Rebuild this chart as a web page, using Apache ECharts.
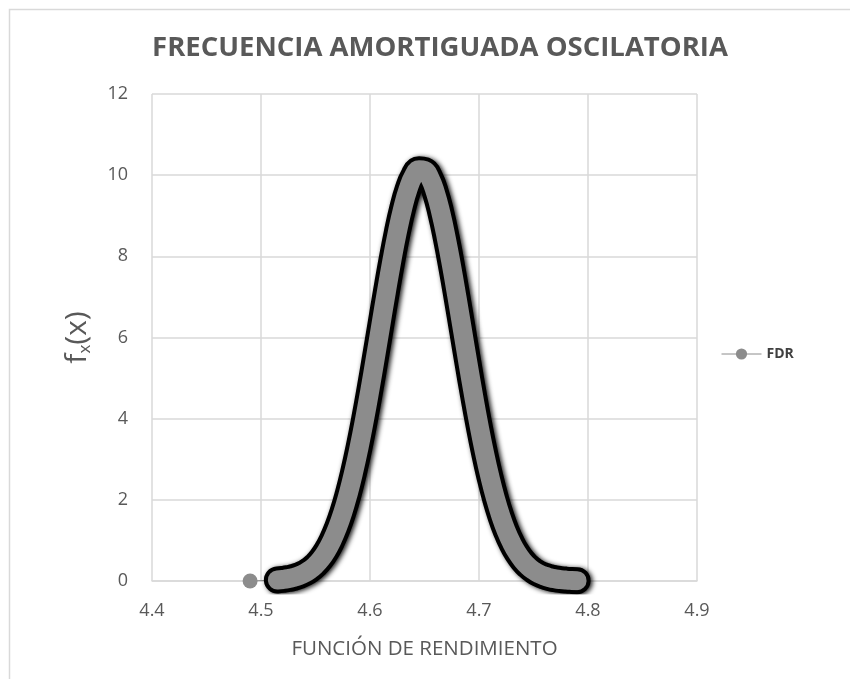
<!DOCTYPE html>
<html>
<head>
<meta charset="utf-8">
<script src="https://cdn.jsdelivr.net/npm/echarts@6/dist/echarts.min.js"></script>
<style>
html,body{margin:0;padding:0;background:#fff;}
#chart{width:850px;height:679px;}
</style>
</head>
<body>
<div id="chart"></div>
<script>
const titleText = 'FRECUENCIA AMORTIGUADA OSCILATORIA';
const xAxisName = 'FUNCIÓN DE RENDIMIENTO';
const seriesName = 'FDR';
const xTicks = [4.4, 4.5, 4.6, 4.7, 4.8, 4.9];
const yTicks = [0, 2, 4, 6, 8, 10, 12];

// isolated point on the left
const isoX = [4.49];
const isoY = [0.0];

// dense curve points
const curveX = [4.515,4.520,4.525,4.530,4.535,4.540,4.545,4.550,4.555,4.560,4.565,4.570,4.575,4.580,4.585,4.590,4.595,4.600,4.605,4.610,4.615,4.620,4.625,4.630,4.635,4.640,4.645,4.650,4.655,4.660,4.665,4.670,4.675,4.680,4.685,4.690,4.695,4.700,4.705,4.710,4.715,4.720,4.725,4.730,4.735,4.740,4.745,4.750,4.755,4.760,4.765,4.770,4.775,4.780,4.785,4.790];
const curveY = [0.024,0.038,0.059,0.089,0.132,0.193,0.277,0.390,0.541,0.738,0.990,1.303,1.686,2.146,2.682,3.296,3.980,4.724,5.511,6.318,7.120,7.886,8.584,9.183,9.657,9.980,10.136,10.118,9.928,9.573,9.073,8.451,7.736,6.962,6.156,5.351,4.571,3.838,3.167,2.568,2.047,1.604,1.234,0.934,0.695,0.508,0.365,0.258,0.179,0.122,0.082,0.054,0.035,0.022,0.014,0.009];

const curvePairs = curveX.map((x, i) => [x, curveY[i]]);
const allPairs = isoX.map((x, i) => [x, isoY[i]]).concat(curvePairs);

const chart = echarts.init(document.getElementById('chart'));
const grey = '#595959';
chart.setOption({
  animation: false,
  backgroundColor: '#fff',
  graphic: [{
    type: 'rect', left: 7, top: 7, silent: true,
    shape: { width: 900, height: 900 },
    style: { fill: 'none', stroke: '#d9d9d9', lineWidth: 1.5 }
  }],
  title: {
    text: titleText,
    left: 435, top: 29, textAlign: 'center',
    textStyle: { fontFamily: 'Open Sans, sans-serif', fontWeight: 'bold', fontSize: 27.5, color: grey }
  },
  legend: {
    data: [seriesName],
    left: 716, top: 342,
    orient: 'vertical',
    itemWidth: 40, itemHeight: 14,
    textStyle: { fontFamily: 'Open Sans, sans-serif', fontWeight: 'bold', fontSize: 14, color: '#404040' },
    lineStyle: { width: 1 }
  },
  grid: { left: 152, right: 153, top: 94, bottom: 98, containLabel: false },
  xAxis: {
    type: 'value', min: 4.4, max: 4.9, interval: 0.1,
    name: xAxisName, nameLocation: 'middle', nameGap: 58,
    nameTextStyle: { fontFamily: 'Open Sans, sans-serif', fontSize: 20.5, color: grey },
    axisLine: { show: true, lineStyle: { color: '#d9d9d9', width: 1.5 } },
    axisTick: { show: false },
    axisLabel: { color: grey, fontSize: 18, fontFamily: 'Open Sans, sans-serif', margin: 21,
      formatter: v => v.toFixed(1) },
    splitLine: { show: true, lineStyle: { color: '#d9d9d9', width: 1.5 } }
  },
  yAxis: {
    type: 'value', min: 0, max: 12, interval: 2,
    name: 'f{sub|x}(x)', nameLocation: 'middle', nameGap: 58, nameRotate: 90,
    nameTextStyle: { fontFamily: 'Open Sans, sans-serif', fontSize: 30, color: grey,
      rich: { sub: { fontSize: 17, color: grey, fontFamily: 'Open Sans, sans-serif', padding: [16, 0, 0, 0] } } },
    axisLine: { show: false },
    axisTick: { show: false },
    axisLabel: { color: grey, fontSize: 18, fontFamily: 'Open Sans, sans-serif', margin: 24 },
    splitLine: { show: true, lineStyle: { color: '#d9d9d9', width: 1.5 } }
  },
  series: [
    {
      name: seriesName, type: 'line', z: 2,
      data: allPairs,
      symbol: 'circle', symbolSize: 15, showSymbol: true,
      itemStyle: { color: '#8c8c8c' },
      lineStyle: { color: '#8c8c8c', width: 1 }
    },
    {
      name: 'edge', type: 'line', z: 3, silent: true,
      data: curvePairs, smooth: true, symbol: 'none',
      lineStyle: { color: '#000', width: 27, cap: 'round', join: 'round',
        shadowColor: 'rgba(0,0,0,0.9)', shadowBlur: 5, shadowOffsetX: 2, shadowOffsetY: 1 }
    },
    {
      name: 'band', type: 'line', z: 4, silent: true,
      data: curvePairs, smooth: true, symbol: 'none',
      lineStyle: { color: '#8c8c8c', width: 19, cap: 'round', join: 'round' }
    }
  ]
});
</script>
</body>
</html>
